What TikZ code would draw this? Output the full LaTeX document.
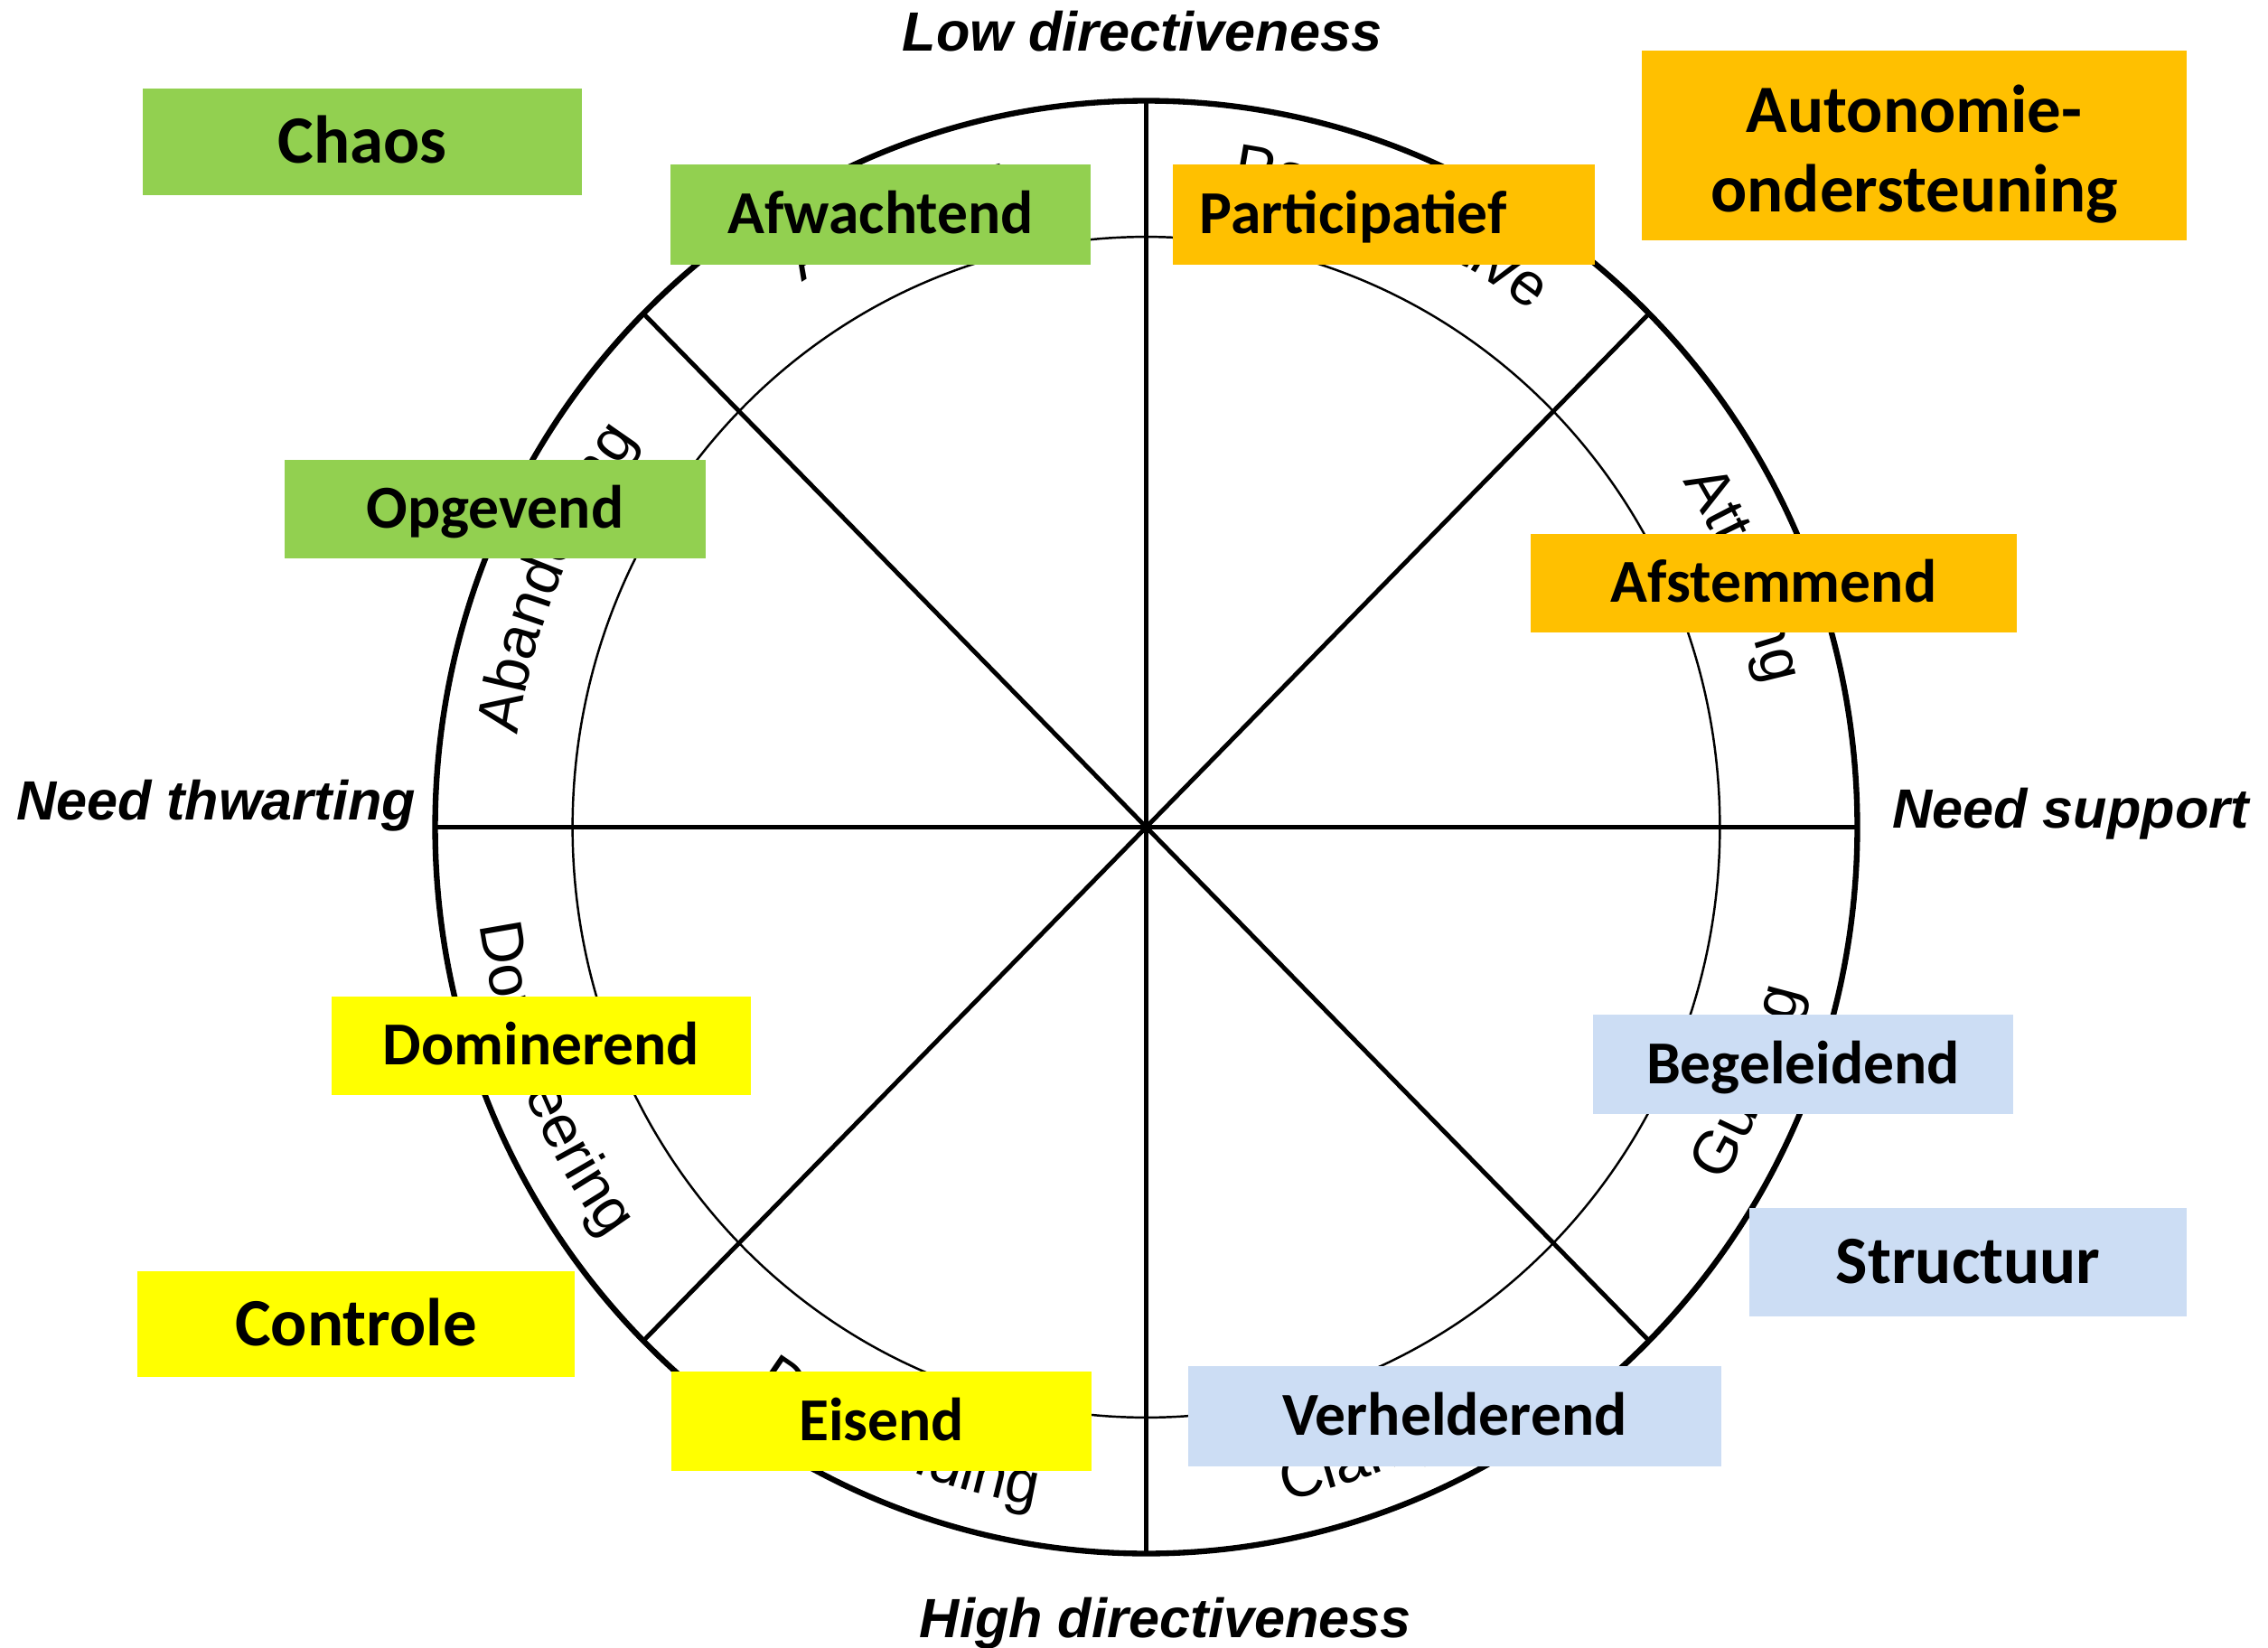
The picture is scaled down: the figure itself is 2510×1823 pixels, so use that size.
\documentclass[tikz,border=0pt]{standalone}
\usepackage{fontspec}
\setmainfont{Carlito}
\newfontfamily\arialfam{Liberation Sans}
\usetikzlibrary{decorations.text}
\newcommand\fBig{\fontsize{21.3}{25.6}\selectfont\bfseries}
\newcommand\fSmall{\fontsize{19.2}{23}\selectfont\bfseries}
\newcommand\fAxis{\arialfam\fontsize{17.4}{20}\selectfont\bfseries\itshape}
\newcommand\fArc{\arialfam\fontsize{19}{20}\selectfont}
\definecolor{cgreen}{RGB}{146,208,80}
\definecolor{corange}{RGB}{255,192,0}
\definecolor{cyellow}{RGB}{255,255,0}
\definecolor{cblue}{RGB}{204,221,244}
\begin{document}
\begin{tikzpicture}[x=0.01cm,y=0.01cm,
  box/.style={inner sep=0pt, text=black},
  sbox/.style={box, font=\fSmall, text height=0.427cm, text depth=0pt},
  bbox/.style={box, font=\fBig, text height=0.474cm, text depth=0pt},
  axlbl/.style={font=\fAxis, inner sep=0pt, anchor=base},
  ring/.style={line width=1.8pt},
  thinring/.style={line width=0.7pt},
  spoke/.style={line width=1.4pt},
  arctext/.style={decorate, decoration={text along path, text align=center, text={|\fArc|#1}}}
]
\useasboundingbox (0,0) rectangle (2510,1823);
\fill[white] (0,0) rectangle (2510,1823);
\coordinate (C) at (1268.5,907.5);

% spokes endpoints
\foreach \a in {0,45,...,315}{
  \path (C) ++(\a:7.865cm and 8.035cm) coordinate (p\a);
}
\draw[spoke] (p0) -- (p180);
\draw[spoke] (p45) -- (p225);
\draw[spoke] (p90) -- (p270);
\draw[spoke] (p135) -- (p315);

\draw[ring] (C) ellipse[x radius=7.865cm, y radius=8.035cm];
\draw[thinring] (C) ellipse[x radius=6.345cm, y radius=6.53cm];

% curved labels, upper half (clockwise)
\foreach \s/\e/\t/\n in {179.5/135.5/Abandoning/u1, 134.5/90.5/Awaiting/u2, 89.5/45.5/Participative/u3, 44.5/0.5/Attuning/u4}{
  \path (C) ++(\s:7.02cm and 7.17cm) coordinate (\n);
  \path[arctext=\t] (\n) arc[start angle=\s, end angle=\e, x radius=7.02cm, y radius=7.17cm];
}
% lower half (counter-clockwise)
\foreach \s/\e/\t/\n in {-179.5/-135.5/Domineering/l1, -134.5/-90.5/Demanding/l2, -89.5/-45.5/Clarifying/l3, -44.5/-0.5/Guiding/l4}{
  \path (C) ++(\s:7.45cm and 7.61cm) coordinate (\n);
  \path[arctext=\t] (\n) arc[start angle=\s, end angle=\e, x radius=7.45cm, y radius=7.61cm];
}

% axis labels
\node[axlbl] (low) at (1264,1766) {Low directiveness};
\node[axlbl] (high) at (1290,11) {High directiveness};
\node[axlbl] (thw) at (239,916) {Need thwarting};
\node[axlbl] (sup) at (2291.5,907) {Need support};

% boxes
\node[bbox, fill=cgreen, minimum width=4.85cm, minimum height=1.185cm] (chaos) at (401,1666) {Chaos};
\node[box, font=\fBig, fill=corange, minimum width=6.03cm, minimum height=2.097cm, align=center, text height=1.46cm, text depth=0cm] (auto) at (2118.5,1662) {Autonomie-\\[-0.02cm]ondersteuning};
\node[sbox, fill=cgreen, minimum width=4.65cm, minimum height=1.11cm] (afw) at (974.5,1585.5) {Afwachtend};
\node[sbox, fill=corange, minimum width=4.67cm, minimum height=1.11cm, text width=4.07cm, align=left, inner xsep=0.3cm] (part) at (1531.5,1585.5) {Participatief};
\node[sbox, fill=cgreen, minimum width=4.66cm, minimum height=1.09cm] (opg) at (548,1259.5) {Opgevend};
\node[sbox, fill=corange, minimum width=5.38cm, minimum height=1.09cm] (afst) at (1963,1177.5) {Afstemmend};
\node[sbox, fill=cyellow, minimum width=4.64cm, minimum height=1.09cm] (dom) at (599,665.5) {Dominerend};
\node[sbox, fill=cblue, minimum width=4.65cm, minimum height=1.10cm] (beg) at (1995.5,645) {Begeleidend};
\node[bbox, fill=cblue, minimum width=4.84cm, minimum height=1.20cm] (struct) at (2178,426) {Structuur};
\node[bbox, fill=cyellow, minimum width=4.84cm, minimum height=1.17cm] (ctrl) at (394,357.5) {Controle};
\node[sbox, fill=cyellow, minimum width=4.65cm, minimum height=1.10cm] (eis) at (975.5,250) {Eisend};
\node[sbox, fill=cblue, minimum width=5.90cm, minimum height=1.11cm] (verh) at (1610,255.5) {Verhelderend};
\end{tikzpicture}
\end{document}
